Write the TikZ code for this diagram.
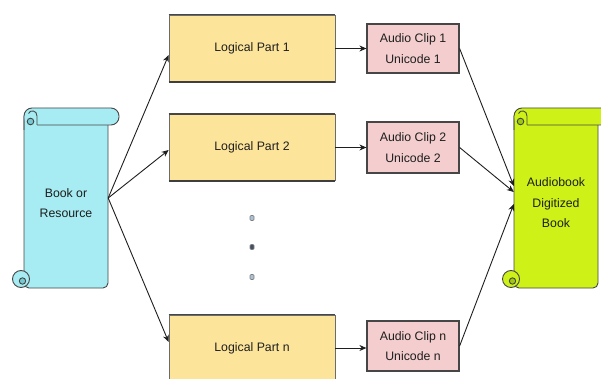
\documentclass[tikz,border=0pt]{standalone}
\usepackage{fontspec}
\setmainfont{Liberation Sans}
\usetikzlibrary{arrows.meta,calc}

\definecolor{bookfill}{RGB}{166,236,242}
\definecolor{bookcurl}{RGB}{118,200,210}
\definecolor{digfill}{RGB}{206,242,24}
\definecolor{digcurl}{RGB}{158,200,12}
\definecolor{partfill}{RGB}{253,228,155}
\definecolor{clipfill}{RGB}{244,206,206}
\definecolor{edge}{RGB}{70,70,70}
\definecolor{ink}{RGB}{30,30,30}
\definecolor{dotfill}{RGB}{172,192,212}
\definecolor{dotdark}{RGB}{70,80,100}

% scroll outline: #1 = horizontal offset, #2 = fill, #3 = curl fill
\newcommand\drawscroll[3]{%
  \begin{scope}[xshift=#1pt]
    % body
    \draw[scrolledge, fill=#2, rounded corners=5pt]
      (24,116) -- (24,288) -- (108,288) -- (108,116);
    % bottom-left curl
    \draw[scrolledge, fill=#2] (21,279) circle[radius=8.5];
    \draw[scrolledge, fill=#3] (22.5,281) circle[radius=3.2];
    % top roll
    \fill[#2, rounded corners=8pt] (24,108) rectangle (119,125);
    \draw[scrolledge, rounded corners=8pt]
      (24,130) -- (24,108) -- (119,108) -- (119,125) -- (37,125);
    \draw[scrolledge, fill=#3] (30.5,121.5) circle[radius=3.3];
    \draw[scrolledge] (28.5,113.5) .. controls (30,109.5) and (37,110) .. (37,116) -- (37,125);
  \end{scope}}

\tikzset{
  scrolledge/.style={draw=edge, line width=0.9pt},
  txt/.style={text=ink, align=center, font=\fontsize{12.3pt}{20.5pt}\selectfont},
  part/.style={txt, fill=partfill, draw=edge!80, line width=0.7pt,
    minimum width=166pt, inner sep=0pt},
  parttop/.style={draw=edge, line width=1.5pt},
  partbot/.style={draw=edge!90!black, line width=2.2pt},
  clip/.style={txt, fill=clipfill, draw=edge, line width=1.2pt,
    minimum width=92pt, inner sep=0pt},
  region/.style={minimum width=84pt, minimum height=180pt, inner sep=0pt},
  dotmark/.style={draw=edge!70, fill=dotfill, line width=0.6pt,
    minimum width=4pt, minimum height=5pt, inner sep=0pt, rounded corners=1pt},
  link/.style={draw=ink, line width=0.9pt, -{Stealth[length=7pt,width=6pt]}},
}

\begin{document}
\begin{tikzpicture}[x=1pt, y=-1pt]
  \useasboundingbox (0,0) rectangle (601,379);

  % scrolls
  \drawscroll{0}{bookfill}{bookcurl}
  \drawscroll{490}{digfill}{digcurl}
  \node[region] (book) at (66,198) {};
  \node[region] (audio) at (556,198) {};
  \node[txt] (booktxt) at (66,203) {Book or\\Resource};
  \node[txt] (audiotxt) at (556,203) {Audiobook\\Digitized\\Book};

  % logical parts
  \node[part, minimum height=67pt] (lp1) at (252,48.5) {Logical Part 1};
  \node[part, minimum height=66pt] (lp2) at (252,147.5) {Logical Part 2};
  \node[part, minimum height=66pt] (lpn) at (252,348) {Logical Part n};
  \foreach \n in {lp1,lp2,lpn}{
    \draw[parttop] (\n.north west) -- (\n.north east);
    \draw[partbot] (\n.south west) -- (\n.south east);
  }

  % audio clips
  \node[clip, minimum height=49pt] (c1) at (413,48.5) {Audio Clip 1\\Unicode 1};
  \node[clip, minimum height=51pt] (c2) at (413,147.5) {Audio Clip 2\\Unicode 2};
  \node[clip, minimum height=50pt] (cn) at (413,346) {Audio Clip n\\Unicode n};

  % ellipsis between parts
  \node[dotmark] (d1) at (252,218) {};
  \node[dotmark, fill=dotdark] (d2) at (252,247) {};
  \node[dotmark] (d3) at (252,277) {};

  % book to parts
  \draw[link] (book.east) -- ([yshift=-6.5pt]lp1.west);
  \draw[link] (book.east) -- ([yshift=-2.5pt]lp2.west);
  \draw[link] (book.east) -- ([yshift=6pt]lpn.west);

  % parts to clips
  \draw[link] (lp1.east) -- (lp1.east -| c1.west);
  \draw[link] (lp2.east) -- (lp2.east -| c2.west);
  \draw[link] (lpn.east) -- (lpn.east -| cn.west);

  % clips to audiobook
  \draw[link] (c1.east) -- ([yshift=12pt]audio.west);
  \draw[link] (c2.east) -- ([yshift=6pt]audio.west);
  \draw[link] (cn.east) -- ([yshift=-6pt]audio.west);
\end{tikzpicture}
\end{document}
